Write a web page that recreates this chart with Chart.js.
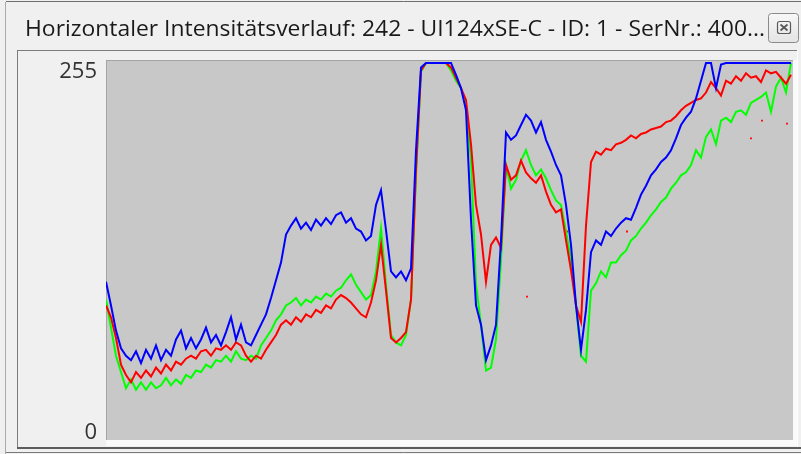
<!DOCTYPE html>
<html><head><meta charset="utf-8">
<script src="https://cdn.jsdelivr.net/npm/chart.js@4.4.0/dist/chart.umd.min.js"></script>
<style>html,body{margin:0;padding:0;background:#f0f0f0;overflow:hidden}#wrap{position:relative;width:801px;height:454px}canvas{display:block}</style>
</head><body><div id="wrap"><canvas id="c" width="801" height="454"></canvas></div>
<script>
const titleText = "Horizontaler Intensitätsverlauf: 242 - UI124xSE-C - ID: 1 - SerNr.: 400...";
const yTicks = [0, 255];

const blueValues = [107,91,74,62,57,54,60,52,61,55,
64,54,61,57,68,74,62,69,62,68,
76,66,71,64,73,83,68,78,66,64,
71,78,85,96,108,120,139,145,150,143,
147,142,149,145,150,146,152,154,147,150,
143,141,135,138,159,169,142,114,110,114,
108,116,196,252,255,255,255,255,255,255,
247,238,223,149,91,78,54,64,78,135,
208,203,206,213,220,216,208,215,203,195,
186,179,159,132,91,61,88,127,135,132,
141,138,143,147,150,149,157,166,172,179,
183,188,191,196,204,213,218,222,231,243,
255,255,238,254,255,255,255,255,255,255,
255,255,255,255,255,255,255,255];

const redValues = [91,83,69,51,44,39,46,42,47,43,
49,45,51,47,53,51,55,57,55,60,
61,57,62,61,64,61,66,64,57,53,
57,55,61,66,71,78,81,78,83,80,
85,83,88,86,91,89,95,98,96,93,
89,85,83,93,108,132,101,69,66,69,
73,95,183,250,255,255,255,255,255,252,
245,238,230,200,159,139,107,132,137,130,
186,176,179,189,181,177,174,179,168,159,
154,156,135,115,91,80,145,188,195,193,
197,196,200,201,203,206,204,207,208,210,
211,212,215,216,219,223,226,228,230,231,
235,242,238,233,243,241,246,243,248,245,
246,242,250,248,249,245,241,247];

const greenValues = [95,76,57,46,35,41,34,39,34,39,
35,37,42,37,41,38,44,42,47,46,
51,49,54,53,57,53,60,55,54,57,
55,64,69,74,81,85,91,93,96,91,
95,93,97,95,99,97,101,103,108,112,
105,100,95,98,114,143,105,71,66,64,
71,95,179,249,255,255,255,255,255,250,
243,238,227,189,105,78,47,49,68,122,
186,170,176,189,196,186,179,183,177,169,
162,159,141,122,91,57,53,101,106,114,
110,120,120,125,128,135,138,143,147,152,
156,161,164,170,174,179,181,186,196,191,
205,210,200,216,218,215,222,223,220,228,
230,232,235,222,239,245,235,255];

// isolated red samples
const redDotX = [84.2, 92.2, 104.2, 129, 131.2, 136.2];
const redDotY = [97, 141, 141, 204, 216, 214];

const toXY = arr => arr.map((v, i) => ({x: i, y: v}));

function line(ctx, x1, y1, x2, y2) { ctx.beginPath(); ctx.moveTo(x1, y1); ctx.lineTo(x2, y2); ctx.stroke(); }

const chrome = {
  id: 'chrome',
  beforeDraw(chart) {
    const ctx = chart.ctx, a = chart.chartArea;
    ctx.save();
    ctx.fillStyle = '#f0f0f0'; ctx.fillRect(0, 0, chart.width, chart.height);
    ctx.lineWidth = 1;
    ctx.strokeStyle = '#6f6f6f'; line(ctx, 6, 1.5, 801, 1.5);
    ctx.strokeStyle = '#aaaaaa'; line(ctx, 5.5, 2, 5.5, 454);
    // title
    ctx.font = '22px "Open Sans"';
    const w = ctx.measureText(titleText).width;
    ctx.save(); ctx.translate(25, 36); ctx.scale(740 / w, 1);
    ctx.fillStyle = '#1a1a1a'; ctx.textBaseline = 'alphabetic'; ctx.textAlign = 'left';
    ctx.fillText(titleText, 0, 0); ctx.restore();
    // close button
    const g = ctx.createLinearGradient(0, 13, 0, 42);
    g.addColorStop(0, '#f8f8f8'); g.addColorStop(1, '#e4e4e4');
    ctx.fillStyle = g; ctx.strokeStyle = '#8a8a8a';
    ctx.beginPath(); ctx.roundRect(768.5, 13.5, 30, 29, 3); ctx.fill(); ctx.stroke();
    ctx.strokeStyle = '#5a5a5a'; ctx.lineWidth = 1.2;
    ctx.beginPath(); ctx.roundRect(777.5, 21.5, 13, 12, 2); ctx.stroke();
    ctx.lineWidth = 1.8;
    line(ctx, 780.5, 24.5, 787.5, 30.5); line(ctx, 787.5, 24.5, 780.5, 30.5);
    // panel frame
    ctx.lineWidth = 1;
    ctx.strokeStyle = '#7c7c7c'; line(ctx, 17, 50.5, 797, 50.5); line(ctx, 17.5, 50, 17.5, 449);
    ctx.strokeStyle = '#ffffff'; line(ctx, 797.5, 50, 797.5, 447);
    ctx.strokeStyle = '#5c5c5c'; ctx.lineWidth = 2; line(ctx, 17, 448, 801, 448);
    ctx.strokeStyle = '#7a7a7a'; ctx.lineWidth = 1; line(ctx, 6, 452.5, 801, 452.5);
    ctx.fillStyle = '#fafafa';
    ctx.fillRect(a.left, a.bottom, a.right - a.left + 4, 6);
    ctx.fillRect(a.right, a.top, 4, a.bottom - a.top);
    // plot area
    ctx.fillStyle = '#c8c8c8'; ctx.fillRect(a.left, a.top, a.right - a.left, a.bottom - a.top);
    ctx.strokeStyle = '#a4a4a4';
    line(ctx, a.left + 0.5, a.top, a.left + 0.5, a.bottom);
    line(ctx, a.left, a.top + 0.5, a.right, a.top + 0.5);
    // y tick labels through the y scale
    const ys = chart.scales.y;
    const top = Math.max(...yTicks);
    ctx.font = '22px "Open Sans"'; ctx.fillStyle = '#333333'; ctx.textAlign = 'right'; ctx.textBaseline = 'alphabetic';
    yTicks.forEach(v => {
      const p = ys.getPixelForValue(v);
      ctx.fillText(String(v), 97, v === top ? p + 15.5 : p - 1);
    });
    ctx.restore();
  }
};

const lineStyle = {borderWidth: 2, pointRadius: 0, tension: 0};

new Chart(document.getElementById('c'), {
  type: 'line',
  data: {
    datasets: [
      Object.assign({label: 'blue', data: toXY(blueValues), borderColor: '#0000ff'}, lineStyle),
      Object.assign({label: 'red', data: toXY(redValues), borderColor: '#ff0000'}, lineStyle),
      Object.assign({label: 'green', data: toXY(greenValues), borderColor: '#00ff00'}, lineStyle),
      {type: 'scatter', label: 'redDots', data: redDotX.map((x, i) => ({x, y: redDotY[i]})), backgroundColor: '#ff0000', borderWidth: 0, pointRadius: 1.3, pointStyle: 'rect'}
    ]
  },
  options: {
    responsive: false, animation: false, devicePixelRatio: 1,
    layout: {padding: {left: 106, top: 60, right: 8, bottom: 14}},
    plugins: {legend: {display: false}, tooltip: {enabled: false}},
    scales: {
      x: {type: 'linear', display: false, min: 0, max: 137.4},
      y: {type: 'linear', display: false, min: 0, max: 257}
    }
  },
  plugins: [chrome]
});
</script></body></html>
